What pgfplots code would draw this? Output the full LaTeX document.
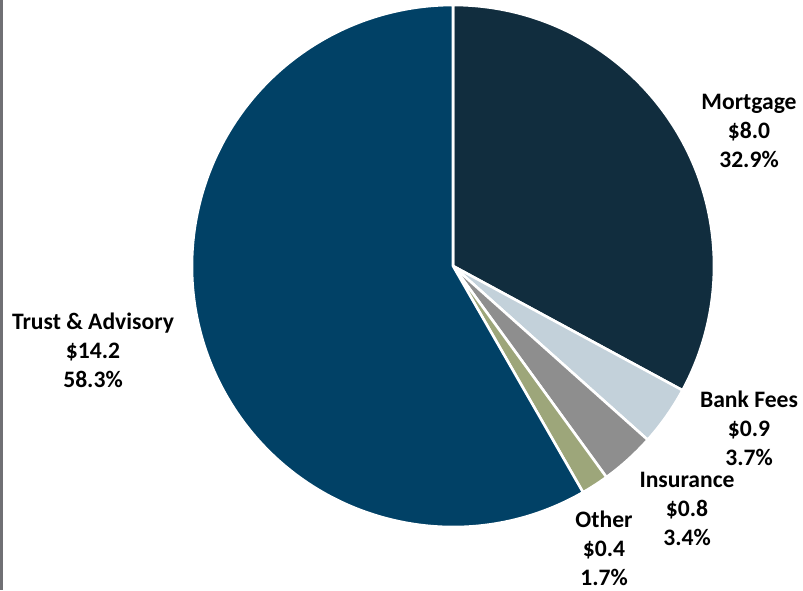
\documentclass[border=0pt]{standalone}
\usepackage{pgfplots}
\usepackage{pgfplotstable}
\pgfplotsset{compat=1.18}
\usepackage{fontspec}
\setmainfont{Carlito}

\definecolor{cMortgage}{HTML}{112D3E}
\definecolor{cBank}{HTML}{C3D1DA}
\definecolor{cIns}{HTML}{8E8E8E}
\definecolor{cOther}{HTML}{9DA67A}
\definecolor{cTrust}{HTML}{014166}
\definecolor{edgegray}{HTML}{707074}

% revenue by line of business, clockwise from 12 o'clock
\pgfplotstableread{
name       value  pct   color
Mortgage   8.0    32.9  cMortgage
BankFees   0.9    3.7   cBank
Insurance  0.8    3.4   cIns
Other      0.4    1.7   cOther
Trust      14.2   58.3  cTrust
}\piedata

\begin{document}
\begin{tikzpicture}
\useasboundingbox (0,0) rectangle (803pt,590pt);
\fill[edgegray] (0,0) rectangle (3pt,590pt);
\begin{axis}[
  at={(0,0)}, anchor=south west,
  scale only axis, width=803pt, height=590pt,
  xmin=0, xmax=803, ymin=0, ymax=590,
  hide axis, clip=false,
]
\pgfplotsextra{
  \gdef\angA{90}
  \pgfplotstableforeachcolumnelement{pct}\of\piedata\as\p{
    \pgfplotstablegetelem{\pgfplotstablerow}{color}\of\piedata
    \let\col\pgfplotsretval
    \pgfmathsetmacro\angB{\angA-3.6*\p}
    \fill[\col, draw=white, line width=2.6pt, line join=round]
      (axis cs:453,324) -- ++(\angA:261pt)
      arc[start angle=\angA, end angle=\angB, radius=261pt] -- cycle;
    \global\let\angA\angB
  }
}
\tikzset{lbl/.style={align=center, font=\fontsize{23.6}{29}\selectfont\bfseries, text=black}}
\node[lbl] at (axis cs:749,459) {Mortgage\\\$8.0\\32.9\%};
\node[lbl] at (axis cs:749,162) {Bank Fees\\\$0.9\\3.7\%};
\node[lbl] at (axis cs:687,81) {Insurance\\\$0.8\\3.4\%};
\node[lbl] at (axis cs:604,42) {Other\\\$0.4\\1.7\%};
\node[lbl] at (axis cs:93,240) {Trust \& Advisory\\\$14.2\\58.3\%};
\end{axis}
\end{tikzpicture}
\end{document}
